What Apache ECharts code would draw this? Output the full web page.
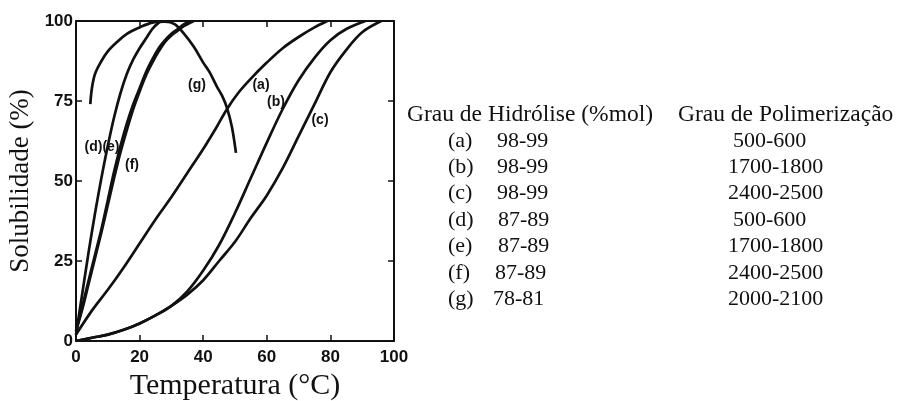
<!DOCTYPE html>
<html>
<head>
<meta charset="utf-8">
<script src="https://cdn.jsdelivr.net/npm/echarts@6/dist/echarts.min.js"></script>
<style>
  html, body { margin: 0; padding: 0; background: #fff; }
  #chart { width: 898px; height: 401px; }
</style>
</head>
<body>
<div id="chart"></div>
<script>
// Solubility (%) of PVA grades versus temperature (°C), pairs of [T, S]
const curveA = [[0,2],[5,9.5],[10,16],[15,23],[20,30.5],[25,38],[30,45],[35,52.5],[40,60],[44,66.5],[47.5,72.5],[51,77.5],[55,82],[60,87],[65,91.5],[70,95],[75,98],[79,100]];
const curveB = [[0,0],[5,1],[10,2],[15,3.5],[20,5.5],[25,8],[30,11],[35,15.5],[40,22],[45,30],[50,40],[55,51],[60,62],[65,72.5],[70,81.5],[75,88.5],[80,94],[85,97.5],[91,100]];
const curveC = [[0,0],[5,1],[10,2],[15,3.5],[20,5.5],[25,8],[30,11],[35,14.5],[40,19],[45,25],[50,31],[55,38.5],[60,45.5],[65,54],[70,64],[75,74],[80,84],[85,91],[90,96.5],[96,100]];
const curveD = [[0,2],[2,15],[4,28],[6,40],[8,51],[10,61],[12,70],[14,77.5],[16,83.5],[18,88],[20,91.5],[22,94.5],[24,97.5],[26,99.5],[27,100]];
const curveE = [[0,3],[2,11],[4,19],[6,27],[8,35],[10,44],[12,53],[14,61],[16,68],[18,74],[20,79],[22,84],[24,88],[26,91.5],[28,94],[30,96],[32,97.5],[34,99],[36,100]];
const curveF = [[0,3],[2,10],[4,18],[6,26],[8,34],[10,42.5],[12,51],[14,59],[16,66],[18,72.5],[20,78],[22,83],[24,87],[26,90.5],[28,93.5],[30,95.5],[32,97],[34,98.5],[36,99.5],[37,100]];
const curveG = [[4.5,74],[5,79],[6,83.5],[8,87.5],[10,90.5],[13,93.5],[16,96],[20,98],[24,99.5],[28,99.8],[31,99],[34,96],[37,92],[40,87],[42,84],[44.3,79.5],[46,76.5],[47.5,72.8],[49,67],[50.3,58.8]];

const curveNames = ['(a)', '(b)', '(c)', '(d)', '(e)', '(f)', '(g)'];
const curves = [curveA, curveB, curveC, curveD, curveE, curveF, curveG];

// Legend table: hydrolysis degree and polymerisation degree for each grade
const tableHeader = ['Grau de Hidrólise (%mol)', 'Grau de Polimerização'];
const rowTags = ['(a)', '(b)', '(c)', '(d)', '(e)', '(f)', '(g)'];
const hydrolysis = ['98-99', '98-99', '98-99', '87-89', '87-89', '87-89', '78-81'];
const polymerisation = ['500-600', '1700-1800', '2400-2500', '500-600', '1700-1800', '2400-2500', '2000-2100'];

const xTicks = [0, 20, 40, 60, 80, 100];
const yTicks = [0, 25, 50, 75, 100];

const chart = echarts.init(document.getElementById('chart'), null, { renderer: 'canvas' });

const lineColor = '#111';
const tickFont = { fontFamily: 'Liberation Sans, Arial, sans-serif', fontSize: 17, fontWeight: 'bold', color: '#111' };
const serif = 'Liberation Serif, Times New Roman, serif';

const series = curves.map((pts, i) => ({
  name: curveNames[i],
  type: 'line',
  data: pts,
  smooth: 0.35,
  showSymbol: false,
  lineStyle: { color: lineColor, width: 2.7 },
  z: 3
}));

// Curve tags written inside the plot (centre positions)
const curveTags = [
  { text: '(g)', x: 197, y: 85 },
  { text: '(a)', x: 261, y: 85 },
  { text: '(b)', x: 276, y: 102 },
  { text: '(c)', x: 320, y: 120 },
  { text: '(d)(e)', x: 102, y: 147 },
  { text: '(f)', x: 132, y: 165 }
];

const graphics = [];
curveTags.forEach(t => graphics.push({
  type: 'text', x: t.x, y: t.y, z: 10,
  style: { text: t.text, font: 'bold 14px Liberation Sans, Arial, sans-serif', fill: '#111', textAlign: 'center', textVerticalAlign: 'middle' }
}));

const headFont = '23.5px ' + serif;
const rowFont = '22px ' + serif;
graphics.push({ type: 'text', x: 407, y: 115, style: { text: tableHeader[0], font: headFont, fill: '#111', textVerticalAlign: 'middle' } });
graphics.push({ type: 'text', x: 678, y: 115, style: { text: tableHeader[1], font: headFont, fill: '#111', textVerticalAlign: 'middle' } });
const rowY = [141, 167, 193, 220, 246, 273, 299];
const hydroX = [497, 497, 497, 498, 498, 495, 493];
const polyX = [733, 728, 728, 733, 728, 728, 728];
rowTags.forEach((tag, i) => {
  graphics.push({ type: 'text', x: 448, y: rowY[i], style: { text: tag, font: rowFont, fill: '#111', textVerticalAlign: 'middle' } });
  graphics.push({ type: 'text', x: hydroX[i], y: rowY[i], style: { text: hydrolysis[i], font: rowFont, fill: '#111', textVerticalAlign: 'middle' } });
  graphics.push({ type: 'text', x: polyX[i], y: rowY[i], style: { text: polymerisation[i], font: rowFont, fill: '#111', textVerticalAlign: 'middle' } });
});

const baseAxis = {
  min: 0, max: 100,
  axisLine: { show: true, onZero: false, lineStyle: { color: lineColor, width: 2 } },
  axisTick: { show: true, inside: true, length: 6, lineStyle: { color: lineColor, width: 1.5 } },
  splitLine: { show: false }
};

chart.setOption({
  backgroundColor: '#fff',
  animation: false,
  grid: { left: 76, right: 504, top: 21, bottom: 60, containLabel: false, outerBoundsMode: 'none' },
  xAxis: [
    Object.assign({}, baseAxis, {
      type: 'value', interval: 20, position: 'bottom',
      axisLabel: Object.assign({ margin: 8 }, tickFont),
      name: 'Temperatura (°C)', nameLocation: 'middle', nameGap: 30,
      nameTextStyle: { fontFamily: serif, fontSize: 30, color: '#111' }
    }),
    Object.assign({}, baseAxis, {
      type: 'value', interval: 20, position: 'top', axisLabel: { show: false }
    })
  ],
  yAxis: [
    Object.assign({}, baseAxis, {
      type: 'value', interval: 25, position: 'left',
      axisLabel: Object.assign({ margin: 3 }, tickFont),
      name: 'Solubilidade (%)', nameLocation: 'middle', nameGap: 42,
      nameTextStyle: { fontFamily: serif, fontSize: 27, color: '#111' }
    }),
    Object.assign({}, baseAxis, {
      type: 'value', interval: 25, position: 'right', axisLabel: { show: false }
    })
  ],
  series: series,
  graphic: graphics
});
</script>
</body>
</html>
